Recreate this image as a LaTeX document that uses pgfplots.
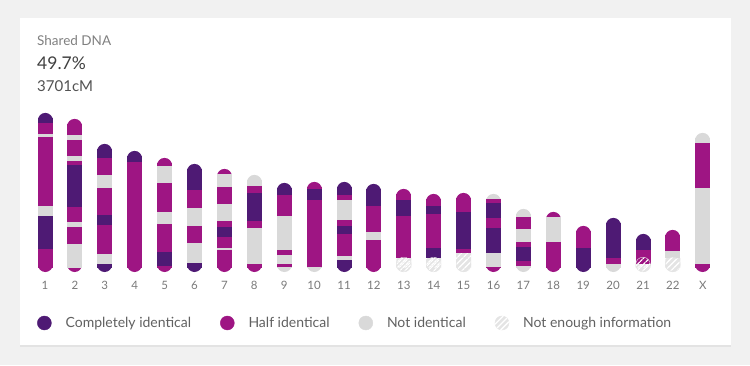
\documentclass[border=0pt]{standalone}
\usepackage{pgfplots}
\pgfplotsset{compat=1.18}
\usepackage{fontspec}
\setmainfont{Lato}
\usetikzlibrary{patterns.meta,shadows}
\definecolor{dk}{HTML}{4E1A74}
\definecolor{mg}{HTML}{9E1583}
\definecolor{gr}{HTML}{D9D9D9}
\definecolor{hb}{HTML}{E4E4E4}
\definecolor{bg}{HTML}{F1F1F1}
\definecolor{lab}{HTML}{7A7A7A}
\tikzset{hatch/.style={pattern={Lines[angle=45,distance=4pt,line width=1.3pt]},pattern color=white}}
\begin{document}
\begin{tikzpicture}[x=1pt,y=1pt]
\useasboundingbox (0,0) rectangle (750,365);
\fill[bg] (0,0) rectangle (750,365);
\fill[white, drop shadow={opacity=0.12,shadow xshift=0pt,shadow yshift=-1.5pt}] (20,20) rectangle (731,347);
\node[anchor=west,inner sep=0pt,text=black!50,font=\fontsize{13.5}{15}\selectfont] at (37,324.5) {Shared DNA};
\node[anchor=west,inner sep=0pt,text=black!75,font=\fontsize{17.5}{19}\selectfont] at (37,302) {49.7\%};
\node[anchor=west,inner sep=0pt,text=black!68,font=\fontsize{15}{17}\selectfont] at (37,278.5) {3701cM};
\begin{axis}[
  at={(15.1pt,93pt)}, anchor=south west, scale only axis,
  x=29.9pt, y=1pt, xmin=0, xmax=24, ymin=0, ymax=170,
  clip=false,
  axis line style={draw=none}, tick style={draw=none},
  ytick=\empty,
  xtick={1,2,3,4,5,6,7,8,9,10,11,12,13,14,15,16,17,18,19,20,21,22,23},
  xticklabels={1,2,3,4,5,6,7,8,9,10,11,12,13,14,15,16,17,18,19,20,21,22,X},
  xticklabel style={anchor=center,yshift=-13pt,text=lab,font=\fontsize{11.5}{12}\selectfont},
  unbounded coords=jump,
  legend columns=4,
  legend style={at={(axis cs:0.732,-51)},anchor=west,draw=none,fill=none,inner sep=0pt,
    font=\fontsize{14}{16}\selectfont,text=black!62,
    /tikz/every odd column/.append style={column sep=12pt},
    /tikz/every even column/.append style={column sep=27pt}},
  legend cell align=left,
  caps/.style={forget plot,line width=15pt,line cap=round,mark=none},
  body/.style={forget plot,line width=15pt,line cap=butt,mark=none},
]
% legend images
\addlegendimage{legend image code/.code={\fill[dk] (7pt,0pt) circle (7pt);}}
\addlegendentry{Completely identical}
\addlegendimage{legend image code/.code={\fill[mg] (7pt,0pt) circle (7pt);}}
\addlegendentry{Half identical}
\addlegendimage{legend image code/.code={\fill[gr] (7pt,0pt) circle (7pt);}}
\addlegendentry{Not identical}
\addlegendimage{legend image code/.code={\fill[hb] (7pt,0pt) circle (7pt);
  \begin{scope}\path[clip,draw=none] (7pt,0pt) circle (7pt);
  \foreach \k in {-3,-2,-1,0,1,2,3} {\draw[white,line width=1.3pt] ({7pt+\k*5.66pt-9pt},-9pt) -- ({7pt+\k*5.66pt+9pt},9pt);}
  \end{scope}}}
\addlegendentry{Not enough information}

% rounded ends (top and bottom) of each chromosome
\addplot[caps,dk] coordinates {
(1,151.5)(1,151.6) (1,nan) (3,120.5)(3,120.6) (3,nan) (4,113.5)(4,113.6) (4,nan)
(6,100.5)(6,100.6) (6,nan) (9,81.5)(9,81.6) (9,nan) (11,82.5)(11,82.6) (11,nan)
(12,80.5)(12,80.6) (12,nan) (20,46.5)(20,46.6) (20,nan) (21,30.5)(21,30.6) (21,nan)
(3,7.5)(3,7.6) (3,nan) (6,7.5)(6,7.6) (6,nan) (11,7.5)(11,7.6) (11,nan) (19,7.5)(19,7.6)};
\addplot[caps,mg] coordinates {
(2,145.5)(2,145.6) (2,nan) (5,106.5)(5,106.6) (5,nan) (7,95.5)(7,95.6) (7,nan)
(10,82.5)(10,82.6) (10,nan) (13,75.5)(13,75.6) (13,nan) (14,70.5)(14,70.6) (14,nan)
(15,71.5)(15,71.6) (15,nan) (18,52.5)(18,52.6) (18,nan) (19,38.5)(19,38.6) (19,nan)
(22,34.5)(22,34.6) (22,nan)
(1,7.5)(1,7.6) (1,nan) (2,7.5)(2,7.6) (2,nan) (4,7.5)(4,7.6) (4,nan) (5,7.5)(5,7.6) (5,nan)
(7,7.5)(7,7.6) (7,nan) (8,7.5)(8,7.6) (8,nan) (12,7.5)(12,7.6) (12,nan) (16,7.5)(16,7.6) (16,nan)
(18,7.5)(18,7.6) (18,nan) (23,7.5)(23,7.6)};
\addplot[caps,gr] coordinates {
(8,89.5)(8,89.6) (8,nan) (16,70.5)(16,70.6) (16,nan) (17,55.5)(17,55.6) (17,nan)
(23,131.5)(23,131.6) (23,nan)
(9,7.5)(9,7.6) (9,nan) (10,7.5)(10,7.6) (10,nan) (17,7.5)(17,7.6) (17,nan) (20,7.5)(20,7.6)};
\addplot[caps,hb] coordinates {
(13,7.5)(13,7.6) (13,nan) (14,7.5)(14,7.6) (14,nan) (15,7.5)(15,7.6) (15,nan)
(21,7.5)(21,7.6) (21,nan) (22,7.5)(22,7.6)};
\addplot[forget plot,hb,only marks,mark=*,mark size=7.3pt,mark options={hatch}] coordinates {
(13,7.5) (14,7.5) (15,7.5) (21,7.5) (22,7.5)};

% completely identical segments
\addplot[body,dk] coordinates {
(1,149)(1,154.5) (1,nan) (1,23)(1,56) (1,nan)
(2,65)(2,107) (2,nan)
(3,114)(3,123.5) (3,nan) (3,47)(3,57) (3,nan) (3,4.5)(3,8) (3,nan)
(4,110)(4,116.5) (4,nan)
(5,6)(5,20) (5,nan)
(6,82)(6,103.5) (6,nan) (6,4.5)(6,9) (6,nan)
(7,35)(7,45) (7,nan)
(8,51)(8,79) (8,nan)
(9,77)(9,84.5) (9,nan)
(10,72)(10,83) (10,nan)
(11,77)(11,85.5) (11,nan) (11,38)(11,46) (11,nan) (11,4.5)(11,12) (11,nan)
(12,66)(12,83.5) (12,nan)
(13,56)(13,72) (13,nan)
(14,58)(14,66) (14,nan) (14,14)(14,24) (14,nan)
(15,23)(15,60) (15,nan)
(16,54)(16,69) (16,nan) (16,19)(16,44) (16,nan)
(17,11)(17,25) (17,nan)
(19,4.5)(19,24) (19,nan)
(20,14)(20,49.5) (20,nan)
(21,22)(21,33.5)};
% half identical segments
\addplot[body,mg] coordinates {
(1,138)(1,149) (1,nan) (1,66)(1,135) (1,nan) (1,4.5)(1,23) (1,nan)
(2,137)(2,148.5) (2,nan) (2,116)(2,132) (2,nan) (2,107)(2,111) (2,nan) (2,50)(2,65) (2,nan) (2,28)(2,45) (2,nan)
(3,97)(3,114) (3,nan) (3,57)(3,84) (3,nan) (3,18)(3,47) (3,nan)
(4,4.5)(4,110) (4,nan)
(5,106)(5,109.5) (5,nan) (5,60)(5,89) (5,nan) (5,20)(5,48) (5,nan) (5,4.5)(5,6) (5,nan)
(6,64)(6,82) (6,nan) (6,29)(6,46) (6,nan)
(7,68)(7,85) (7,nan) (7,45)(7,51) (7,nan) (7,24)(7,35) (7,nan) (7,4.5)(7,22) (7,nan)
(8,79)(8,86) (8,nan) (8,44)(8,51) (8,nan) (8,4.5)(8,8) (8,nan)
(9,56)(9,77) (9,nan) (9,17)(9,22) (9,nan) (9,5)(9,8) (9,nan)
(10,83)(10,85.5) (10,nan) (10,5)(10,72) (10,nan)
(11,72)(11,77) (11,nan) (11,46)(11,52) (11,nan) (11,16)(11,38) (11,nan)
(12,40)(12,66) (12,nan) (12,4.5)(12,32) (12,nan)
(13,72)(13,78.5) (13,nan) (13,14)(13,56) (13,nan)
(14,66)(14,73.5) (14,nan) (14,24)(14,58) (14,nan)
(15,60)(15,74.5) (15,nan) (15,19)(15,23) (15,nan)
(16,69)(16,73.5) (16,nan) (16,44)(16,54) (16,nan) (16,4.5)(16,5) (16,nan)
(17,43)(17,55) (17,nan) (17,25)(17,30) (17,nan) (17,6)(17,11) (17,nan)
(18,4.5)(18,30) (18,nan)
(19,24)(19,41.5) (19,nan)
(20,8)(20,14) (20,nan)
(21,8)(21,22) (21,nan)
(22,21)(22,37.5) (22,nan)
(23,84)(23,129) (23,nan) (23,4.5)(23,8)};
% not identical segments
\addplot[body,gr] coordinates {
(1,135)(1,138) (1,nan) (1,56)(1,66) (1,nan)
(2,132)(2,137) (2,nan) (2,111)(2,116) (2,nan) (2,45)(2,50) (2,nan) (2,4.5)(2,28) (2,nan)
(3,84)(3,97) (3,nan) (3,8)(3,18) (3,nan)
(5,89)(5,106) (5,nan) (5,48)(5,60) (5,nan)
(6,46)(6,64) (6,nan) (6,9)(6,29) (6,nan)
(7,85)(7,98.5) (7,nan) (7,51)(7,68) (7,nan) (7,22)(7,24) (7,nan)
(8,86)(8,92.5) (8,nan) (8,8)(8,44) (8,nan)
(9,22)(9,56) (9,nan) (9,8)(9,17) (9,nan) (9,4.5)(9,5) (9,nan)
(10,4.5)(10,5) (10,nan)
(11,52)(11,72) (11,nan) (11,12)(11,16) (11,nan)
(12,32)(12,40) (12,nan)
(16,5)(16,19) (16,nan)
(17,55)(17,58.5) (17,nan) (17,30)(17,43) (17,nan) (17,4.5)(17,6) (17,nan)
(18,30)(18,55) (18,nan)
(20,4.5)(20,8) (20,nan)
(22,14)(22,21) (22,nan)
(23,129)(23,134.5) (23,nan) (23,8)(23,84)};
% not enough information segments
\addplot[forget plot,draw=none,fill=hb,postaction={hatch}] coordinates {
(12.7492,4.5)(13.2508,4.5)(13.2508,14)(12.7492,14) (13,nan)
(13.7492,4.5)(14.2508,4.5)(14.2508,14)(13.7492,14) (14,nan)
(14.7492,4.5)(15.2508,4.5)(15.2508,19)(14.7492,19) (15,nan)
(20.7492,4.5)(21.2508,4.5)(21.2508,8)(20.7492,8) (21,nan)
(21.7492,4.5)(22.2508,4.5)(22.2508,14)(21.7492,14)};
\end{axis}
\end{tikzpicture}
\end{document}
